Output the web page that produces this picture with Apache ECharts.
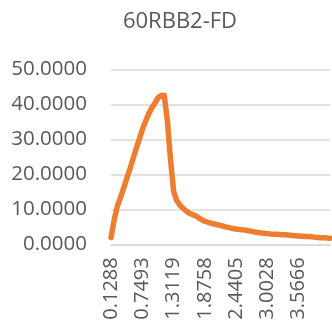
<!DOCTYPE html>
<html>
<head>
<meta charset="utf-8">
<script src="https://cdn.jsdelivr.net/npm/echarts@6/dist/echarts.min.js"></script>
<style>
  html, body { margin: 0; padding: 0; background: #ffffff; }
  #chart { width: 332px; height: 332px; }
</style>
</head>
<body>
<div id="chart"></div>
<script>
// Sample positions (category axis)
const xValues = [
  0.1288, 0.1909, 0.2529, 0.3150, 0.3770, 0.4391, 0.5011, 0.5632, 0.6252, 0.6873,
  0.7493, 0.8056, 0.8618, 0.9181, 0.9743, 1.0306, 1.0869, 1.1431, 1.1994, 1.2556,
  1.3119, 1.3683, 1.4247, 1.4811, 1.5375, 1.5939, 1.6502, 1.7066, 1.7630, 1.8194,
  1.8758, 1.9323, 1.9887, 2.0452, 2.1017, 2.1582, 2.2146, 2.2711, 2.3276, 2.3840,
  2.4405, 2.4967, 2.5530, 2.6092, 2.6654, 2.7217, 2.7779, 2.8341, 2.8903, 2.9466,
  3.0028, 3.0592, 3.1156, 3.1719, 3.2283, 3.2847, 3.3411, 3.3975, 3.4538, 3.5102,
  3.5666, 3.6230, 3.6794, 3.7358, 3.7922, 3.8486, 3.9050, 3.9614, 4.0178, 4.0742,
  4.1306
];

// Measured response
const fdValues = [
  1.9, 6.9, 10.8, 13.3, 15.9, 18.7, 21.4, 24.3, 27.2, 29.9,
  32.7, 35.0, 37.2, 38.9, 40.3, 41.8, 42.5, 42.6, 35.5, 24.5,
  15.2, 12.5, 11.2, 10.3, 9.5, 8.9, 8.5, 8.2, 7.6, 7.0,
  6.6, 6.3, 6.0, 5.8, 5.6, 5.4, 5.1, 4.9, 4.7, 4.5,
  4.35, 4.2, 4.15, 4.05, 3.85, 3.7, 3.5, 3.4, 3.25, 3.15,
  3.05, 2.95, 2.9, 2.85, 2.8, 2.75, 2.7, 2.6, 2.5, 2.45,
  2.4, 2.3, 2.25, 2.2, 2.15, 2.05, 1.95, 1.9, 1.85, 1.8,
  1.75
];

const yTicks = { min: 0, max: 50, interval: 10 };
const labelStep = 10;
const titleText = '60RBB2-FD';

const textColor = '#595959';
const gridColor = '#d9d9d9';
const fontFamily = '"Open Sans", "Noto Sans", sans-serif';

// every tenth sample gets a label, as long as a full step of room remains
const lastLabelIndex = Math.floor((xValues.length - 2) / labelStep) * labelStep;

const chart = echarts.init(document.getElementById('chart'), null, { renderer: 'canvas' });
chart.setOption({
  animation: false,
  backgroundColor: '#ffffff',
  title: {
    text: titleText,
    left: 175,
    textAlign: 'center',
    top: 6,
    textStyle: { fontFamily, fontSize: 22, fontWeight: 'normal', color: textColor }
  },
  grid: { left: 111, right: 2, top: 69.3, bottom: 87.7, containLabel: false },
  xAxis: {
    type: 'category',
    data: xValues.map(v => v.toFixed(4)),
    boundaryGap: false,
    axisLine: { lineStyle: { color: gridColor, width: 1.5 } },
    axisTick: { show: false },
    splitLine: { show: false },
    axisLabel: {
      interval: (i) => i % labelStep === 0 && i <= lastLabelIndex,
      rotate: 90,
      margin: 13,
      fontFamily,
      fontSize: 20,
      color: textColor
    }
  },
  yAxis: {
    type: 'value',
    min: yTicks.min,
    max: yTicks.max,
    interval: yTicks.interval,
    axisLine: { show: false },
    axisTick: { show: false },
    splitLine: { lineStyle: { color: gridColor, width: 1.5 } },
    axisLabel: {
      margin: 24,
      fontFamily,
      fontSize: 20.5,
      color: textColor,
      formatter: v => v.toFixed(4)
    }
  },
  series: [{
    type: 'line',
    data: fdValues,
    showSymbol: false,
    smooth: false,
    lineStyle: { color: '#ED7D31', width: 5.5, cap: 'round', join: 'round' }
  }]
});
</script>
</body>
</html>
